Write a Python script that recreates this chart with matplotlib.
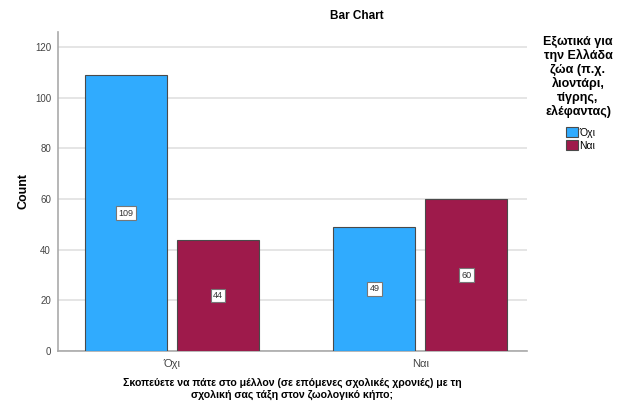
import matplotlib
matplotlib.use("Agg")
import matplotlib.pyplot as plt
import numpy as np
from matplotlib.patches import Patch

categories = ["Όχι", "Ναι"]
series_names = ["Όχι", "Ναι"]
values_oxi = [109, 49]
values_nai = [44, 60]
yticks = [0, 20, 40, 60, 80, 100, 120]

plt.rcParams['font.family'] = ['Liberation Sans', 'DejaVu Sans']

fig = plt.figure(figsize=(6.24, 4.12), dpi=100)
ax = fig.add_axes([58/624, 1-351/412, (527-58)/624, (351-32)/412])

x = np.arange(len(categories))
w = 0.33
gap = 0.04
colors = ["#30abfe", "#9e1a4b"]
for vals, off, c in [(values_oxi, -(w+gap)/2, colors[0]), (values_nai, (w+gap)/2, colors[1])]:
    bars = ax.bar(x + off, vals, width=w, color=c, edgecolor="#4a4a4a", linewidth=0.8, zorder=3)
    for b, v in zip(bars, vals):
        ax.text(b.get_x() + b.get_width()/2, v/2, str(v), ha="center", va="center", fontsize=6.5,
                color="#333333", zorder=4,
                bbox=dict(boxstyle="square,pad=0.25", fc="white", ec="#777777", lw=0.8))

ax.set_xlim(-0.46, 1.43)
ax.set_ylim(0, 126)
ax.set_yticks(yticks)
ax.set_xticks(x)
ax.set_xticklabels(categories, fontsize=8, color="#444444")
ax.tick_params(axis='y', labelsize=7, colors="#444444", length=0, pad=5)
ax.tick_params(axis='x', length=0, pad=6)
ax.grid(axis='y', color="#e0e0e0", lw=1.2, zorder=0)
for s in ["top", "right"]:
    ax.spines[s].set_visible(False)
ax.spines["left"].set_color("#aaaaaa")
ax.spines["bottom"].set_color("#aaaaaa")
ax.spines["left"].set_linewidth(1.2)
ax.spines["bottom"].set_linewidth(1.2)
ax.set_ylabel("Count", fontsize=9, fontweight="bold", labelpad=4)

fig.text(357/624, 1-16/412, "Bar Chart", ha="center", va="center", fontsize=8.5, fontweight="bold")
fig.text(292/624, 1-389/412,
         "Σκοπεύετε να πάτε στο μέλλον (σε επόμενες σχολικές χρονιές) με τη\nσχολική σας τάξη στον ζωολογικό κήπο;",
         ha="center", va="center", fontsize=7.6, fontweight="bold", linespacing=1.15)

fig.text(578/624, 1-77/412,
         "Εξωτικά για\nτην Ελλάδα\nζώα (π.χ.\nλιοντάρι,\nτίγρης,\nελέφαντας)",
         ha="center", va="center", fontsize=9, fontweight="bold", linespacing=1.15)

handles = [Patch(facecolor=colors[0], edgecolor="#4a4a4a", lw=0.8),
           Patch(facecolor=colors[1], edgecolor="#4a4a4a", lw=0.8)]
leg = fig.legend(handles, series_names, loc="upper left", bbox_to_anchor=(561/624, 1-122/412),
                 frameon=False, fontsize=7.5, handlelength=1.1, handleheight=1.1,
                 handletextpad=0.15, labelspacing=0.25, borderpad=0)

fig.savefig("out.png", dpi=100)
